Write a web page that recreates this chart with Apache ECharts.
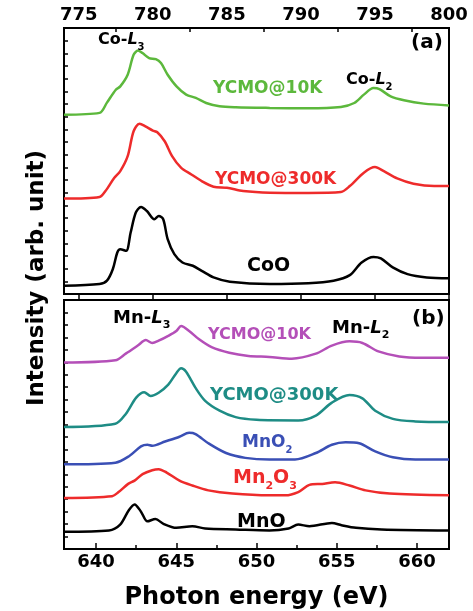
<!DOCTYPE html>
<html lang="en">
<head>
    <meta charset="UTF-8">
    <title>Co and Mn L-edge XAS</title>
    <script src="https://cdn.jsdelivr.net/npm/echarts@6/dist/echarts.min.js"></script>
    <style>
        body { margin: 0; background: #fff; }
    </style>
</head>
<body>
    <div id="main" style="width: 473px;height:611px;"></div>
    <script type="text/javascript">
        // tick labels
        const coTicks = [775, 780, 785, 790, 795, 800];
        const coMinorTicks = [777.5, 782.5, 787.5, 792.5, 797.5];
        const mnTicks = [640, 645, 650, 655, 660];
        const mnMinorTicks = [642.5, 647.5, 652.5, 657.5];

        // (a) Co L-edge, [energy eV, intensity arb.]
        const coYcmo10K = [[774,14.16],[776.4,14.30],[776.9,15.11],[777.5,16.13],[777.8,16.39],[778.3,17.31],[778.7,18.88],[779.0,19.22],[779.3,19.02],[779.75,18.62],[780.2,18.54],[780.55,18.23],[781.0,17.31],[781.6,16.39],[782.25,15.74],[782.9,15.48],[783.6,15.08],[784.5,14.82],[785.6,14.74],[787.9,14.69],[790.5,14.66],[792.7,14.77],[793.6,15.08],[794.25,15.74],[794.9,16.26],[795.3,16.18],[796.06,15.60],[796.96,15.29],[798.3,15.03],[800,14.89]];
        const coYcmo300K = [[774,7.53],[776.4,7.66],[776.8,8.13],[777.4,9.18],[777.8,9.70],[778.3,10.88],[778.7,12.85],[779.1,13.45],[779.5,13.24],[780.0,12.90],[780.3,12.77],[780.8,12.06],[781.3,10.88],[781.9,9.97],[782.6,9.44],[783.3,8.91],[784.1,8.47],[785.0,8.39],[786.1,8.13],[787.9,8.00],[790.5,7.98],[792.7,8.05],[793.3,8.52],[794.25,9.58],[795.0,10.02],[795.6,9.70],[796.5,9.13],[797.6,8.71],[799,8.52],[800,8.52]];
        const coCoO = [[774,0.65],[776.4,0.79],[776.9,1.05],[777.3,1.97],[777.6,3.28],[777.8,3.54],[778.2,3.41],[778.5,4.85],[778.85,6.43],[779.2,6.87],[779.6,6.55],[780.1,5.90],[780.4,6.16],[780.7,5.90],[781.0,4.33],[781.45,3.15],[782.0,2.49],[782.7,2.23],[783.3,1.83],[784.1,1.31],[785.2,0.97],[787.9,0.79],[790.5,0.85],[792.2,1.05],[793.3,1.49],[794.1,2.49],[794.9,2.93],[795.4,2.81],[796.2,2.10],[797.2,1.57],[798.5,1.31],[800,1.24]];

        // (b) Mn L-edge
        const mnYcmo10K = [[638,14.98],[641.2,15.16],[641.85,15.69],[642.6,16.34],[643.1,16.78],[643.5,16.55],[643.9,16.73],[644.5,17.12],[645.0,17.51],[645.3,17.91],[645.8,17.51],[646.4,16.86],[647.2,16.21],[648.3,15.76],[649.5,15.51],[650.8,15.43],[652.2,15.29],[653.7,15.69],[654.7,16.34],[655.8,16.68],[656.6,16.55],[657.6,15.87],[658.9,15.47],[660.3,15.37],[662,15.37]];
        const mnYcmo300K = [[638,9.80],[641.2,10.06],[641.85,10.85],[642.5,12.16],[643.0,12.60],[643.4,12.29],[643.9,12.55],[644.5,13.20],[645.0,14.12],[645.3,14.51],[645.6,14.25],[646.2,12.94],[646.8,11.90],[647.7,11.11],[648.7,10.59],[650,10.38],[652.6,10.33],[653.7,10.72],[654.7,11.76],[655.8,12.37],[656.6,12.10],[657.4,11.11],[658.5,10.45],[659.9,10.25],[662,10.20]];
        const mnMnO2 = [[638,6.80],[641.2,6.93],[642.05,7.45],[642.8,8.24],[643.2,8.37],[643.5,8.29],[644.3,8.63],[645.2,9.02],[645.8,9.33],[646.2,9.23],[647.0,8.49],[648.1,7.71],[649.3,7.32],[650.8,7.19],[652.4,7.19],[653.7,7.71],[654.7,8.37],[655.55,8.57],[656.4,8.49],[657.4,7.84],[658.5,7.37],[659.9,7.19],[662,7.19]];
        const mnMn2O3 = [[638,4.10],[641.0,4.24],[641.4,4.57],[642.0,5.23],[642.4,5.49],[642.9,6.02],[643.5,6.33],[643.9,6.41],[644.4,6.14],[645.2,5.49],[646.0,5.10],[647.0,4.71],[648.5,4.45],[650.8,4.31],[651.8,4.31],[652.6,4.57],[653.3,5.15],[654.1,5.23],[654.9,5.36],[655.8,5.10],[656.8,4.71],[658.3,4.45],[662,4.31]];
        const mnMnO = [[638,1.39],[640.8,1.49],[641.5,1.96],[642.05,3.14],[642.4,3.58],[642.8,3.00],[643.2,2.22],[643.7,2.41],[644.2,2.02],[645,1.70],[646,1.83],[646.8,1.65],[648.7,1.57],[650.8,1.49],[652.0,1.65],[652.6,1.96],[653.3,1.83],[654.7,2.09],[655.3,1.91],[656.2,1.70],[657.8,1.57],[662,1.49]];

        const FONT = 'DejaVu Sans';

        function line(data, color, xi, yi) {
            return {
                type: 'line', data: data, xAxisIndex: xi, yAxisIndex: yi,
                showSymbol: false, smooth: 0.3, silent: true,
                lineStyle: { color: color, width: 2.5 }
            };
        }

        function xAx(grid, pos, min, max, ticks, minor, name) {
            return [{
                type: 'value', gridIndex: grid, position: pos, min: min, max: max,
                axisLine: { show: false }, splitLine: { show: false },
                axisTick: { inside: true, length: 6, customValues: ticks, lineStyle: { color: '#000', width: 1.5 } },
                axisLabel: { customValues: ticks, color: '#000', fontFamily: FONT, fontWeight: 'bold', fontSize: 18, margin: 4 },
                name: name || '', nameLocation: 'middle', nameGap: 37,
                nameTextStyle: { color: '#000', fontFamily: FONT, fontWeight: 'bold', fontSize: 24 }
            }, {
                type: 'value', gridIndex: grid, position: pos, min: min, max: max,
                axisLine: { show: false }, splitLine: { show: false },
                axisTick: { inside: true, length: 4, customValues: minor, lineStyle: { color: '#000', width: 1.5 } },
                axisLabel: { show: false }
            }];
        }

        function yAx(grid, max) {
            return {
                type: 'value', gridIndex: grid, min: 0, max: max, interval: 1,
                axisLine: { show: false }, splitLine: { show: false },
                axisTick: { inside: true, length: 4, lineStyle: { color: '#000', width: 1.5 } },
                axisLabel: { show: false }
            };
        }

        function label(x, y, text, color, size) {
            const base = { fontFamily: FONT, fontWeight: 'bold', fontSize: size, fill: color };
            return {
                type: 'text', x: x, y: y, z: 10,
                style: Object.assign({}, base, {
                    text: text, align: 'left', verticalAlign: 'middle',
                    rich: {
                        i: Object.assign({}, base, { fontStyle: 'italic' }),
                        s: Object.assign({}, base, { fontSize: Math.round(size * 0.6), verticalAlign: 'bottom', padding: [0, 0, -4, 0] })
                    }
                })
            };
        }

        var myChart = echarts.init(document.getElementById('main'));
        var option = {
            animation: false,
            backgroundColor: '#fff',
            grid: [
                { left: 64, top: 28, width: 385, height: 266, show: true, borderColor: '#000', borderWidth: 2 },
                { left: 64, top: 300, width: 385, height: 255, show: true, borderColor: '#000', borderWidth: 2 }
            ],
            xAxis: xAx(0, 'top', 774, 800, coTicks, coMinorTicks)
                .concat(xAx(1, 'bottom', 638, 662, mnTicks, mnMinorTicks, 'Photon energy (eV)')),
            yAxis: [yAx(0, 21), yAx(1, 20)],
            series: [
                line(coYcmo10K, '#5cb83c', 0, 0),
                line(coYcmo300K, '#ee2b2b', 0, 0),
                line(coCoO, '#000000', 0, 0),
                line(mnYcmo10K, '#b44fb8', 2, 1),
                line(mnYcmo300K, '#1e8c85', 2, 1),
                line(mnMnO2, '#3a4fb5', 2, 1),
                line(mnMn2O3, '#ee2b2b', 2, 1),
                line(mnMnO, '#000000', 2, 1)
            ],
            graphic: [
                {
                    type: 'text', x: 37, y: 278, rotation: Math.PI / 2,
                    style: { text: 'Intensity (arb. unit)', fontFamily: FONT, fontWeight: 'bold', fontSize: 23, fill: '#000', align: 'center', verticalAlign: 'middle' }
                },
                label(98, 40, 'Co-{i|L}{s|3}', '#000', 16),
                label(411, 43, '(a)', '#000', 20),
                label(213, 89, 'YCMO@10K', '#5cb83c', 17),
                label(346, 80, 'Co-{i|L}{s|2}', '#000', 16),
                label(215, 180, 'YCMO@300K', '#ee2b2b', 17),
                label(247, 266, 'CoO', '#000', 19),
                label(113, 318, 'Mn-{i|L}{s|3}', '#000', 18),
                label(412, 319, '(b)', '#000', 20),
                label(208, 335, 'YCMO@10K', '#b44fb8', 16),
                label(332, 328, 'Mn-{i|L}{s|2}', '#000', 18),
                label(210, 395, 'YCMO@300K', '#1e8c85', 18),
                label(242, 443, 'MnO{s|2}', '#3a4fb5', 17),
                label(233, 478, 'Mn{s|2}O{s|3}', '#ee2b2b', 19),
                label(237, 522, 'MnO', '#000', 19)
            ]
        };
        myChart.setOption(option);
    </script>
</body>
</html>
